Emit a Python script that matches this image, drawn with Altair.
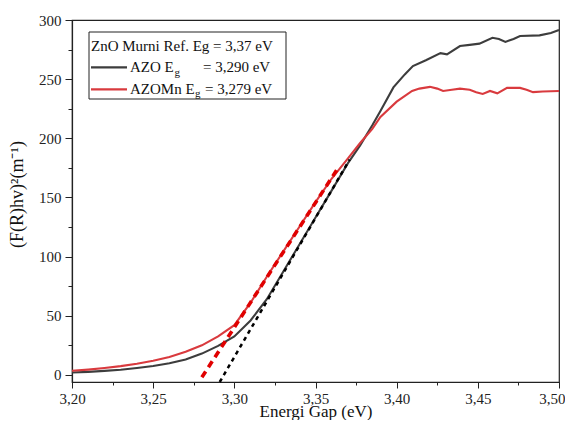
import altair as alt
import pandas as pd

# ---- data ----
E_azo = [3.20, 3.21, 3.22, 3.23, 3.24, 3.25, 3.26, 3.27, 3.28, 3.29, 3.30, 3.31,
         3.32, 3.33, 3.34, 3.35, 3.36, 3.37, 3.3775, 3.385, 3.39, 3.398, 3.405,
         3.41, 3.418, 3.427, 3.431, 3.439, 3.445, 3.451, 3.459, 3.463, 3.467,
         3.472, 3.476, 3.488, 3.495, 3.50]
V_azo = [2.0, 2.6, 3.4, 4.4, 5.8, 7.5, 9.8, 13.0, 18.0, 24.5, 32.5, 46,
         64, 87, 110, 133, 156, 179, 194, 211, 223, 243, 254,
         261, 266, 272, 271, 278, 279, 280, 285, 284, 281.5,
         284, 286.5, 287, 289, 291.6]

E_azomn = [3.20, 3.21, 3.22, 3.23, 3.24, 3.25, 3.26, 3.27, 3.28, 3.29, 3.30, 3.31,
           3.32, 3.33, 3.34, 3.35, 3.36, 3.37, 3.3775, 3.385, 3.39, 3.40, 3.4095,
           3.414, 3.4205, 3.425, 3.4286, 3.434, 3.439, 3.445, 3.449, 3.453, 3.4575,
           3.462, 3.468, 3.476, 3.48, 3.484, 3.49, 3.50]
V_azomn = [3.5, 4.5, 5.8, 7.4, 9.4, 12, 15.2, 19.5, 25.0, 32.5, 42, 61,
           83, 104, 125, 146, 166, 183, 196, 208, 218, 231, 240,
           242, 243.5, 242, 240, 241, 242, 241, 239, 237.5, 240,
           238, 242.6, 242.6, 241, 239, 239.5, 240]

fit_azo_E = [3.291, 3.371]
fit_azo_V = [-6, 182]
fit_azomn_E = [3.280, 3.363]
fit_azomn_V = [-2, 173]

x_ticks = [3.200, 3.225, 3.250, 3.275, 3.300, 3.325, 3.350, 3.375, 3.400,
           3.425, 3.450, 3.475, 3.500]
y_ticks = [0, 25, 50, 75, 100, 125, 150, 175, 200, 225, 250, 275, 300]

legend_title = "ZnO Murni Ref. Eg = 3,37 eV"
legend_names = ["AZO E", "AZOMn E"]
legend_values = ["= 3,290 eV", "= 3,279 eV"]

C_AZO = "#3d3d3d"
C_AZOMN = "#d93a3e"
FONT = "Liberation Serif"

curves = pd.concat([
    pd.DataFrame({"E": E_azo, "V": V_azo, "s": "AZO"}),
    pd.DataFrame({"E": E_azomn, "V": V_azomn, "s": "AZOMn"}),
])
fit_azo = pd.DataFrame({"E": fit_azo_E, "V": fit_azo_V})
fit_azomn = pd.DataFrame({"E": fit_azomn_E, "V": fit_azomn_V})

MAJOR_X = "abs(datum.value*20 - round(datum.value*20)) < 0.000001"
x_enc = alt.X(
    "E:Q",
    scale=alt.Scale(domain=[3.2, 3.5], nice=False, zero=False),
    axis=alt.Axis(
        values=x_ticks,
        labelExpr=MAJOR_X + " ? replace(format(datum.value, '.2f'), '.', ',') : ''",
        tickSize={"condition": {"test": MAJOR_X, "value": 6}, "value": 3},
        labelAlign={"condition": {"test": "datum.value > 3.499", "value": "right"}, "value": "center"},
        labelOffset={"condition": {"test": "datum.value > 3.499", "value": 6}, "value": 0},
        labelOverlap=False,
        labelFlush=False,
        labelPadding=3,
        titlePadding=-3,
        titleFontSize=17,
    ),
    title="Energi Gap (eV)",
)
y_enc = alt.Y(
    "V:Q",
    scale=alt.Scale(domain=[-6, 300], nice=False, zero=False),
    axis=alt.Axis(
        values=y_ticks,
        labelExpr="datum.value % 50 == 0 ? datum.value : ''",
        tickSize={"condition": {"test": "datum.value % 50 == 0", "value": 7}, "value": 4},
        labelOverlap=False,
        labelFlush=False,
        labelPadding=4,
        titlePadding=12,
        titleY=174,
    ),
    title="(F(R)hv)²(m⁻¹)",
)

curve_layer = alt.Chart(curves).mark_line(strokeWidth=2.1).encode(
    x=x_enc, y=y_enc,
    color=alt.Color("s:N", scale=alt.Scale(domain=["AZO", "AZOMn"], range=[C_AZO, C_AZOMN]), legend=None),
)
fit1 = alt.Chart(fit_azo).mark_line(color="#000000", strokeWidth=2.5, strokeDash=[4, 4]).encode(x=x_enc, y=y_enc)
fit2 = alt.Chart(fit_azomn).mark_line(color="#e00000", strokeWidth=3.6, strokeDash=[7, 5]).encode(x=x_enc, y=y_enc)

one = pd.DataFrame({"k": [0]})
box = alt.Chart(one).mark_rect(fill="white", stroke="#222222", strokeWidth=1).encode(
    x=alt.value(17), x2=alt.value(214), y=alt.value(12), y2=alt.value(79))

def txt(s, x, y, size=15):
    return alt.Chart(pd.DataFrame({"t": [s]})).mark_text(
        font=FONT, fontSize=size, align="left", baseline="alphabetic", color="#111111"
    ).encode(x=alt.value(x), y=alt.value(y), text="t:N")

def sym(color, y):
    return alt.Chart(one).mark_rule(color=color, strokeWidth=2.2).encode(
        x=alt.value(19), x2=alt.value(55), y=alt.value(y))

legend = [
    box,
    txt(legend_title, 19, 31),
    sym(C_AZO, 47.3), txt(legend_names[0], 58, 51.5), txt("g", 102.5, 55.5, 11), txt(legend_values[0], 131, 51.5),
    sym(C_AZOMN, 69.3), txt(legend_names[1], 58, 73.5), txt("g", 123, 77, 11), txt(legend_values[1], 133, 73.5),
]

chart = alt.layer(curve_layer, fit1, fit2, *legend).properties(
    width=487, height=362,
    autosize=alt.AutoSizeParams(type="none"),
    padding={"left": 64, "top": 12, "right": 6, "bottom": 38},
    background="white",
).configure_view(stroke="#222222", strokeWidth=1.2).configure_axis(
    grid=False,
    domainColor="#222222",
    domainWidth=1.2,
    tickColor="#222222",
    tickWidth=1,
    labelFont=FONT, labelFontSize=15, labelColor="#222222",
    titleFont=FONT, titleFontSize=18, titleFontWeight="normal", titleColor="#111111",
)

chart.save("out.html", embed_options={"renderer": "svg", "actions": False})
